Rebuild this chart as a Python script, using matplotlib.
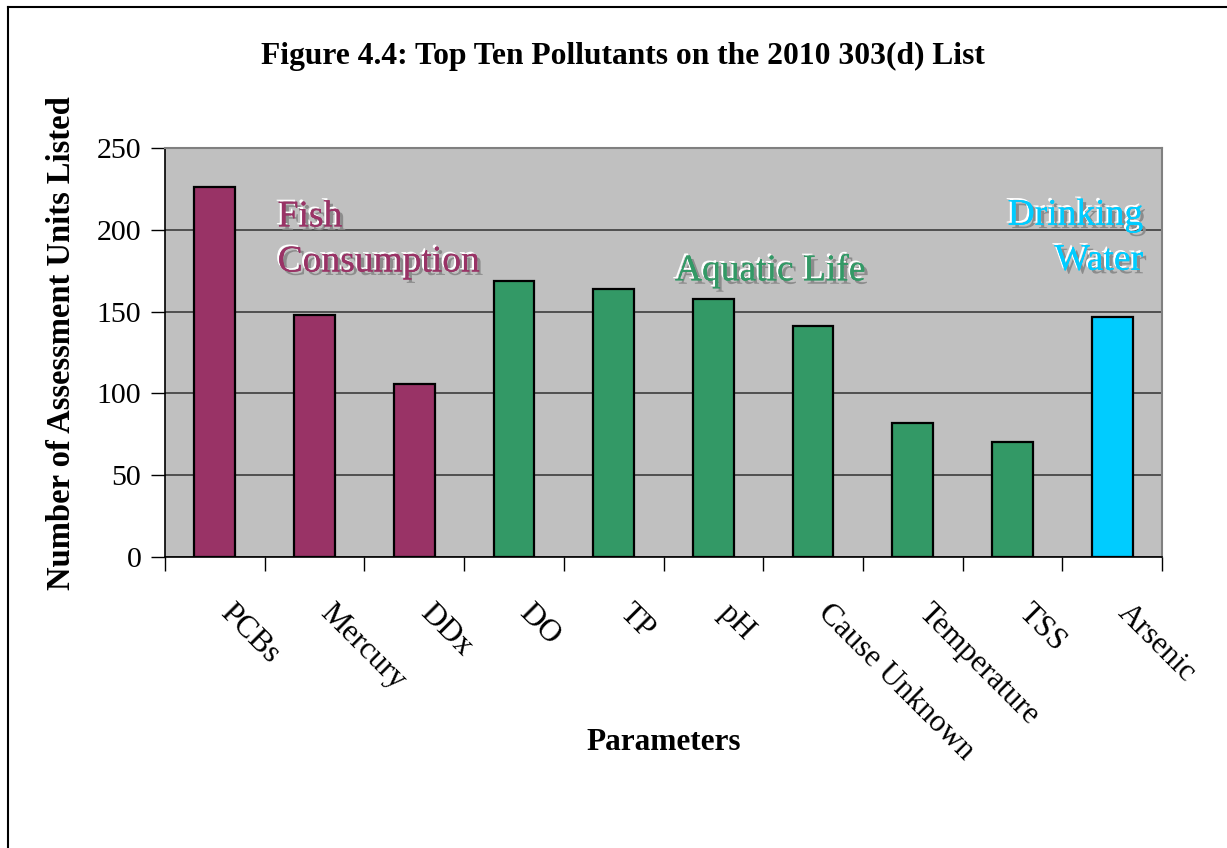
import matplotlib
matplotlib.use("Agg")
import matplotlib.pyplot as plt
import matplotlib.patheffects as pe
import matplotlib.transforms as mtrans
import numpy as np

categories = ["PCBs", "Mercury", "DDx", "DO", "TP", "pH",
              "Cause Unknown", "Temperature", "TSS", "Arsenic"]
counts = [226, 148, 106, 169, 164, 158, 141, 82, 70, 147]
groups = ["fish", "fish", "fish", "aquatic", "aquatic", "aquatic",
          "aquatic", "aquatic", "aquatic", "drinking"]
group_colors = {"fish": "#993366", "aquatic": "#339966", "drinking": "#00CCFF"}
yticks = [0, 50, 100, 150, 200, 250]

plt.rcParams['font.family'] = ['Liberation Serif', 'DejaVu Serif']

fig = plt.figure(figsize=(12.27, 8.48), dpi=100)
W, H = 1227, 848
ax = fig.add_axes([165 / W, 1 - 557 / H, (1162 - 165) / W, (557 - 148) / H])
ax.set_facecolor("#C0C0C0")

x = np.arange(len(categories))
colors = [group_colors[g] for g in groups]
ax.bar(x, counts, width=0.41, color=colors, edgecolor="black", linewidth=1.6, zorder=3)

ax.set_xlim(-0.5, len(categories) - 0.5)
ax.set_ylim(0, 250)
ax.set_yticks(yticks)
ax.tick_params(axis="y", labelsize=21.5, length=10, width=1, pad=7, direction="out")
ax.yaxis.grid(True, color="#3c3c3c", linewidth=1.2, zorder=1)

# ticks at category boundaries, labels at centres
ax.set_xticks(np.arange(-0.5, len(categories), 1.0))
ax.set_xticklabels([])
ax.tick_params(axis="x", which="major", length=10, width=1, direction="out")
ax.set_xticks(x, minor=True)
ax.set_xticklabels(categories, minor=True, rotation=-45, ha="left", va="top",
                   rotation_mode="anchor", fontsize=22.5)
ax.tick_params(axis="x", which="minor", length=0, pad=30)
shift = mtrans.ScaledTranslation(0.2, 0, fig.dpi_scale_trans)
for lab in ax.get_xticklabels(minor=True):
    lab.set_transform(lab.get_transform() + shift)

for s in ["top", "right"]:
    ax.spines[s].set_color("#808080")
    ax.spines[s].set_linewidth(1.5)
for s in ["left", "bottom"]:
    ax.spines[s].set_color("black")
    ax.spines[s].set_linewidth(1.2)

fig.text(62 / W, 1 - 343 / H, "Number of Assessment Units Listed", rotation=90,
         ha="center", va="center", fontsize=23.5, fontweight="bold")
fig.text(664 / W, 1 - 742 / H, "Parameters", ha="center", va="center",
         fontsize=22.5, fontweight="bold")
fig.text(623 / W, 1 - 56 / H, "Figure 4.4: Top Ten Pollutants on the 2010 303(d) List",
         ha="center", va="center", fontsize=22.7, fontweight="bold")

# embossed group labels
fx = [pe.withSimplePatchShadow(offset=(2.5, -2.5), shadow_rgbFace="#8c8c8c", alpha=1.0),
      pe.withSimplePatchShadow(offset=(-1.5, 1.5), shadow_rgbFace="white", alpha=1.0),
      pe.Normal()]
ax.text(0.63, 194, "Fish\nConsumption", color=group_colors["fish"], fontsize=27,
        ha="left", va="center", linespacing=1.4, path_effects=fx, zorder=4)
ax.text(5.57, 175, "Aquatic Life", color=group_colors["aquatic"], fontsize=27,
        ha="center", va="center", path_effects=fx, zorder=4)
ax.text(9.31, 195, "Drinking\nWater", color=group_colors["drinking"], fontsize=27,
        ha="right", va="center", linespacing=1.4, path_effects=fx, zorder=4)

# outer frame (left and top edges only visible)
fig.add_artist(plt.Line2D([8 / W, 8 / W], [0, 1 - 7 / H], transform=fig.transFigure,
                          color="black", linewidth=1.5))
fig.add_artist(plt.Line2D([8 / W, 1], [1 - 7 / H, 1 - 7 / H], transform=fig.transFigure,
                          color="black", linewidth=1.5))

fig.savefig("out.png", dpi=100, facecolor="white")
